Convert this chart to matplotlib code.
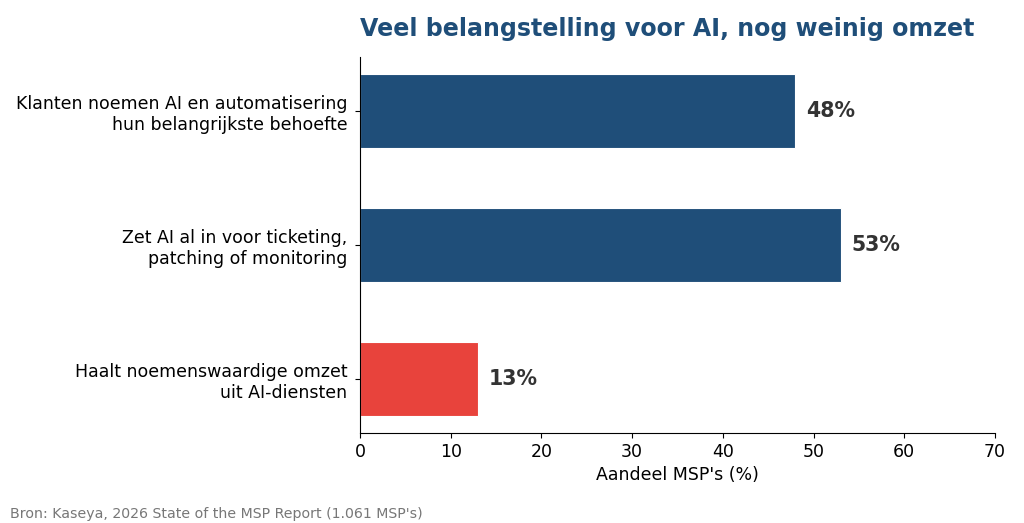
import matplotlib.pyplot as plt

# Data
labels = [
    "Klanten noemen AI en automatisering\nhun belangrijkste behoefte",
    "Zet AI al in voor ticketing,\npatching of monitoring",
    "Haalt noemenswaardige omzet\nuit AI-diensten",
]
values = [48, 53, 13]
colors = ["#1f4e79", "#1f4e79", "#e8433c"]

fig = plt.figure(figsize=(10.24, 5.23), dpi=100)
ax = fig.add_axes([0.3516, 0.172, 0.62, 0.719])

y = range(len(labels))
ax.barh(y, values, height=0.55, color=colors, edgecolor="white", linewidth=0.8)
ax.invert_yaxis()
ax.set_yticks(list(y))
ax.set_yticklabels(labels, fontsize=12.5)
ax.tick_params(axis="y", pad=5.5)
ax.set_xlim(0, 70)
ax.tick_params(axis="x", labelsize=12.5)
ax.set_xlabel("Aandeel MSP's (%)", fontsize=12.5)

for i, v in enumerate(values):
    ax.text(v + 1.2, i, f"{v}%", va="center", ha="left",
            fontsize=14.8, fontweight="bold", color="#333333")

ax.spines["top"].set_visible(False)
ax.spines["right"].set_visible(False)

ax.set_title("Veel belangstelling voor AI, nog weinig omzet", loc="left",
             fontsize=17.1, fontweight="bold", color="#1f4e79", pad=15)

fig.text(0.01, 0.01, "Bron: Kaseya, 2026 State of the MSP Report (1.061 MSP's)",
         fontsize=10.2, color="#777777")

fig.savefig("out.png", dpi=100)
